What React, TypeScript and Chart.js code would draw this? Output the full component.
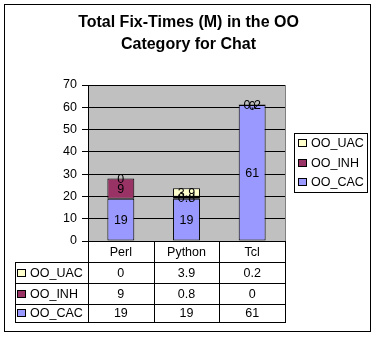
import React, { useEffect, useRef } from "react";
import { Chart, registerables } from "chart.js";

Chart.register(...registerables);

const titleLines = ["Total Fix-Times (M) in the OO", "Category for Chat"];
const categories = ["Perl", "Python", "Tcl"];
const seriesNames = ["OO_CAC", "OO_INH", "OO_UAC"];
const cacValues = [19, 19, 61];
const inhValues = [9, 0.8, 0];
const uacValues = [0, 3.9, 0.2];
const seriesColors = ["#9999FF", "#993366", "#FFFFCC"];
const yMin = 0;
const yMax = 70;
const yStep = 10;

const FONT = "Arial, 'Liberation Sans', sans-serif";
const SMALL = `12.5px ${FONT}`;

const decorPlugin = {
  id: "excelDecor",
  beforeDraw(chart: any) {
    const { ctx, chartArea: a, width, height } = chart;
    ctx.save();
    ctx.fillStyle = "#FFFFFF";
    ctx.fillRect(0, 0, width, height);
    ctx.strokeStyle = "#000000";
    ctx.lineWidth = 1;
    ctx.strokeRect(4.5, 4.5, 366, 327);
    // title
    ctx.fillStyle = "#000000";
    ctx.font = `bold 16px ${FONT}`;
    ctx.textAlign = "center";
    ctx.textBaseline = "middle";
    const tx = (4 + 371) / 2 + 1;
    titleLines.forEach((t, i) => ctx.fillText(t, tx, 23 + i * 22));
    // plot area
    ctx.fillStyle = "#C0C0C0";
    ctx.fillRect(a.left, a.top, a.right - a.left, a.bottom - a.top);
    ctx.strokeStyle = "#808080";
    ctx.strokeRect(Math.round(a.left) + 0.5, Math.round(a.top) + 0.5, Math.round(a.right - a.left), Math.round(a.bottom - a.top));
    ctx.restore();
  },
  afterDatasetsDraw(chart: any) {
    const { ctx } = chart;
    ctx.save();
    ctx.font = SMALL;
    ctx.fillStyle = "#000000";
    ctx.textAlign = "center";
    ctx.textBaseline = "middle";
    chart.data.datasets.forEach((ds: any, di: number) => {
      const meta = chart.getDatasetMeta(di);
      meta.data.forEach((el: any, i: number) => {
        const p = el.getProps(["x", "y", "base"], true);
        const cy = (p.y + p.base) / 2;
        ctx.fillText(String(ds.data[i]), p.x, cy + 1);
      });
    });
    ctx.restore();
  },
  afterDraw(chart: any) {
    const { ctx, chartArea: a } = chart;
    const xs = chart.scales.x;
    const datasets = chart.data.datasets;
    ctx.save();
    ctx.strokeStyle = "#000000";
    ctx.lineWidth = 1;
    const n = categories.length;
    const bounds: number[] = [a.left];
    for (let i = 0; i < n - 1; i++) {
      bounds.push((xs.getPixelForValue(i) + xs.getPixelForValue(i + 1)) / 2);
    }
    bounds.push(a.right);
    const top = Math.round(a.bottom);
    const rowHeights = [21, 21, 21, 18];
    const rowY: number[] = [top];
    rowHeights.forEach((h) => rowY.push(rowY[rowY.length - 1] + h));
    const legendLeft = 15;
    const line = (x1: number, y1: number, x2: number, y2: number) => {
      ctx.beginPath();
      ctx.moveTo(x1, y1);
      ctx.lineTo(x2, y2);
      ctx.stroke();
    };
    for (let r = 1; r < rowY.length; r++) {
      line(legendLeft, rowY[r] + 0.5, Math.round(a.right) + 1, rowY[r] + 0.5);
    }
    bounds.forEach((b) => {
      const bx = Math.round(b) + 0.5;
      line(bx, top, bx, rowY[rowY.length - 1] + 1);
    });
    line(legendLeft + 0.5, rowY[1], legendLeft + 0.5, rowY[rowY.length - 1] + 1);

    ctx.font = SMALL;
    ctx.fillStyle = "#000000";
    ctx.textBaseline = "middle";
    ctx.textAlign = "center";
    categories.forEach((c, i) => {
      ctx.fillText(c, (bounds[i] + bounds[i + 1]) / 2, (rowY[0] + rowY[1]) / 2 + 1);
    });
    const order = datasets.map((_: any, i: number) => i).reverse();
    order.forEach((di: number, r: number) => {
      const ds = datasets[di];
      const y0 = rowY[r + 1];
      const y1 = rowY[r + 2];
      const cy = (y0 + y1) / 2;
      ctx.fillStyle = ds.backgroundColor;
      ctx.fillRect(legendLeft + 2, Math.round(cy) - 4, 9, 8);
      ctx.strokeStyle = "#000000";
      ctx.strokeRect(legendLeft + 2.5, Math.round(cy) - 3.5, 8, 7);
      ctx.fillStyle = "#000000";
      ctx.textAlign = "left";
      ctx.fillText(ds.label, 30, cy + 1);
      ctx.textAlign = "center";
      ds.data.forEach((v: number, i: number) => {
        ctx.fillText(String(v), (bounds[i] + bounds[i + 1]) / 2, cy + 1);
      });
    });

    const lx = 294, ly = 133, lw = 73, lh = 59;
    ctx.fillStyle = "#FFFFFF";
    ctx.fillRect(lx, ly, lw, lh);
    ctx.strokeStyle = "#000000";
    ctx.strokeRect(lx + 0.5, ly + 0.5, lw, lh);
    const itemY = [143, 163, 182];
    order.forEach((di: number, r: number) => {
      const ds = datasets[di];
      const cy = itemY[r];
      ctx.fillStyle = ds.backgroundColor;
      ctx.fillRect(298, cy - 4, 9, 8);
      ctx.strokeStyle = "#000000";
      ctx.strokeRect(298.5, cy - 3.5, 8, 7);
      ctx.fillStyle = "#000000";
      ctx.textAlign = "left";
      ctx.fillText(ds.label, 311, cy + 1);
    });
    ctx.restore();
  },
};

export default function App() {
  const canvasRef = useRef<HTMLCanvasElement | null>(null);

  useEffect(() => {
    document.body.style.margin = "0";
    const canvas = canvasRef.current;
    if (!canvas) return;
    const seriesValues = [cacValues, inhValues, uacValues];
    const chart = new Chart(canvas, {
      type: "bar",
      data: {
        labels: categories,
        datasets: seriesNames.map((name, i) => ({
          label: name,
          data: seriesValues[i],
          backgroundColor: seriesColors[i],
          borderColor: "#000000",
          borderWidth: 1,
          borderSkipped: false,
          barPercentage: 0.41,
          categoryPercentage: 1,
        })),
      },
      options: {
        responsive: false,
        animation: false,
        devicePixelRatio: 1,
        layout: { padding: { left: 0, right: 91, top: 85, bottom: 96 } },
        plugins: {
          legend: { display: false },
          tooltip: { enabled: false },
          title: { display: false },
        },
        scales: {
          x: {
            display: false,
            stacked: true,
            offset: true,
            grid: { display: false },
          },
          y: {
            stacked: true,
            min: yMin,
            max: yMax,
            ticks: {
              stepSize: yStep,
              color: "#000000",
              font: { family: FONT, size: 12.5 },
              padding: 5,
            },
            grid: { color: "#000000", lineWidth: 1, tickLength: 6, tickColor: "#000000" },
            border: { display: true, color: "#000000" },
            afterFit: (scale: any) => {
              scale.width = 88;
            },
          },
        },
      },
      plugins: [decorPlugin],
    });
    return () => chart.destroy();
  }, []);

  return (
    <div style={{ position: "absolute", left: 0, top: 0, width: 376, height: 337 }}>
      <canvas ref={canvasRef} width={376} height={337} />
    </div>
  );
}
